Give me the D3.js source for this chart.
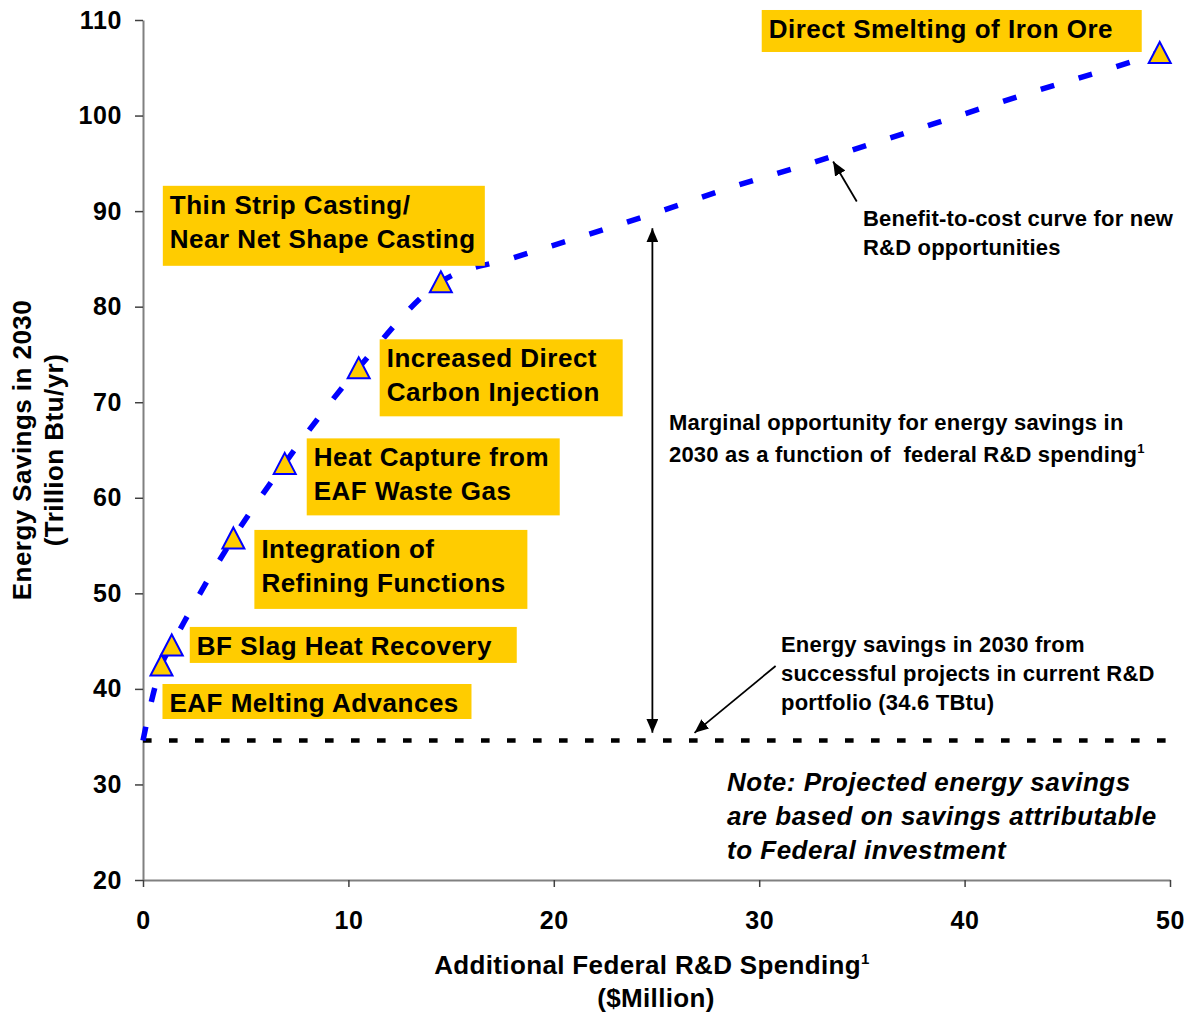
<!DOCTYPE html>
<html>
<head>
<meta charset="utf-8">
<script src="https://cdn.jsdelivr.net/npm/d3@7"></script>
<style>
  html, body { margin: 0; padding: 0; background: #ffffff; }
  svg { display: block; font-family: "Liberation Sans", Arial, Helvetica, sans-serif; font-weight: bold; }
</style>
</head>
<body>
<svg id="chart" width="1191" height="1014"></svg>
<script>
// ---- Candidate R&D projects (triangle markers) ----
const projectNames = [
  ["EAF Melting Advances"],
  ["BF Slag Heat Recovery"],
  ["Integration of", "Refining Functions"],
  ["Heat Capture from", "EAF Waste Gas"],
  ["Increased Direct", "Carbon Injection"],
  ["Thin Strip Casting/", "Near Net Shape Casting"],
  ["Direct Smelting of Iron Ore"]
];
const projectSpending = [0.9, 1.4, 4.4, 6.9, 10.5, 14.5, 49.5];   // $Million
const projectSavings  = [42.5, 44.6, 55.8, 63.6, 73.6, 82.6, 106.6]; // TBtu/yr

// ---- Benefit-to-cost curve for new R&D opportunities ----
const curveSpending = [0, 0.4, 0.9, 1.4, 2.0, 4.4, 6.9, 10.5, 14.5, 18.0, 21.6, 25.2, 28.8, 32.5, 36.0, 39.6, 43.2, 46.9, 49.5];
const curveSavings  = [34.6, 38.6, 42.5, 44.6, 47.0, 55.8, 63.6, 73.6, 82.6, 85.1, 87.5, 90.0, 92.6, 95.0, 97.4, 99.9, 102.4, 104.8, 106.6];

// ---- Savings from the current R&D portfolio ----
const portfolioSpending = [0, 50];
const portfolioSavings  = [34.6, 34.6];

// ---- Axis ticks ----
const xTicks = [0, 10, 20, 30, 40, 50];
const yTicks = [20, 30, 40, 50, 60, 70, 80, 90, 100, 110];

// Label box placement relative to each marker (pixels)
const labelLayout = [
  { dx: 1,    dy: 19,    w: 309, h: 35 },
  { dx: 18,   dy: -18,   w: 327, h: 36 },
  { dx: 21,   dy: -8,    w: 273, h: 79 },
  { dx: 22,   dy: -25,   w: 253, h: 77 },
  { dx: 21,   dy: -28.5, w: 243, h: 77 },
  { dx: -278, dy: -96,   w: 322, h: 80 },
  { dx: -398, dy: -42.5, w: 380, h: 42 }
];

const svg = d3.select("#chart");
const x = d3.scaleLinear().domain([0, 50]).range([143, 1170]);
const y = d3.scaleLinear().domain([20, 110]).range([880, 20]);

const GOLD = "#FFCC00";
const BLUE = "#0000FF";

// Arrowhead definition
const defs = svg.append("defs");
defs.append("marker")
  .attr("id", "arrowHead")
  .attr("markerUnits", "userSpaceOnUse")
  .attr("markerWidth", 14).attr("markerHeight", 12)
  .attr("refX", 14).attr("refY", 6)
  .attr("orient", "auto-start-reverse")
  .append("path")
  .attr("d", "M0,0 L14,6 L0,12 Z")
  .attr("fill", "#000");

// ---- Axes ----
const yAxis = d3.axisLeft(y).tickValues(yTicks).tickSize(8).tickSizeOuter(0).tickPadding(13);
const xAxis = d3.axisBottom(x).tickValues(xTicks).tickSize(7).tickSizeOuter(0).tickPadding(24);

const gy = svg.append("g").attr("transform", `translate(${x(0)},0)`).call(yAxis);
const gx = svg.append("g").attr("transform", `translate(0,${y(20)})`).call(xAxis);

[gy, gx].forEach(g => {
  g.select(".domain").attr("stroke", "#808080").attr("stroke-width", 2);
  g.selectAll(".tick line").attr("stroke", "#404040").attr("stroke-width", 1.5);
  g.selectAll(".tick text")
    .attr("fill", "#000")
    .style("font-family", "'Liberation Sans', Arial, sans-serif")
    .style("font-weight", "bold")
    .style("font-size", "25px")
    .style("letter-spacing", "0.6px");
});

// Axis titles
const xTitle = svg.append("text")
  .attr("x", 652).attr("y", 974)
  .attr("text-anchor", "middle")
  .style("font-size", "26px")
  .style("letter-spacing", "0.35px");
xTitle.append("tspan").text("Additional Federal R&D Spending");
xTitle.append("tspan").attr("dy", -10).style("font-size", "15px").text("1");
svg.append("text")
  .attr("x", 656).attr("y", 1007)
  .attr("text-anchor", "middle")
  .style("font-size", "26px")
  .style("letter-spacing", "0.35px")
  .text("($Million)");

svg.append("text")
  .attr("transform", "rotate(-90)")
  .attr("x", -450).attr("y", 31)
  .attr("text-anchor", "middle")
  .style("font-size", "26px")
  .style("letter-spacing", "0.45px")
  .text("Energy Savings in 2030");
svg.append("text")
  .attr("transform", "rotate(-90)")
  .attr("x", -450).attr("y", 63)
  .attr("text-anchor", "middle")
  .style("font-size", "26px")
  .style("letter-spacing", "0.45px")
  .text("(Trillion Btu/yr)");

// ---- Current portfolio line ----
const portfolioPts = portfolioSpending.map((s, i) => [s, portfolioSavings[i]]);
svg.append("path")
  .datum(portfolioPts)
  .attr("d", d3.line().x(d => x(d[0])).y(d => y(d[1])))
  .attr("fill", "none")
  .attr("stroke", "#000")
  .attr("stroke-width", 4.5)
  .attr("stroke-dasharray", "8.6,17.4");

// ---- Benefit-to-cost curve ----
const curvePts = curveSpending.map((s, i) => [s, curveSavings[i]]);
svg.append("path")
  .datum(curvePts)
  .attr("d", d3.line().x(d => x(d[0])).y(d => y(d[1])).curve(d3.curveMonotoneX))
  .attr("fill", "none")
  .attr("stroke", BLUE)
  .attr("stroke-width", 5.5)
  .attr("stroke-dasharray", "14,25.5");

// ---- Project markers ----
const projects = projectNames.map((name, i) => ({
  name, spending: projectSpending[i], savings: projectSavings[i], layout: labelLayout[i]
}));

svg.append("g").selectAll("path")
  .data(projects)
  .join("path")
  .attr("transform", d => `translate(${x(d.spending)},${y(d.savings)})`)
  .attr("d", "M0,-10.5 L11,10.5 L-11,10.5 Z")
  .attr("fill", GOLD)
  .attr("stroke", BLUE)
  .attr("stroke-width", 2)
  .attr("stroke-linejoin", "miter");

// ---- Project label boxes ----
const labels = svg.append("g").selectAll("g")
  .data(projects)
  .join("g")
  .attr("transform", d => `translate(${x(d.spending) + d.layout.dx},${y(d.savings) + d.layout.dy})`);

labels.append("rect")
  .attr("width", d => d.layout.w)
  .attr("height", d => d.layout.h)
  .attr("fill", GOLD);

labels.each(function (d) {
  const t = d3.select(this).append("text")
    .style("font-size", "26px")
    .style("letter-spacing", "0.5px")
    .attr("fill", "#000");
  d.name.forEach((line, j) => {
    t.append("tspan").attr("x", 7).attr("y", 28 + j * 34).text(line);
  });
});

// ---- Annotations ----
// Marginal opportunity double arrow
svg.append("line")
  .attr("x1", x(24.8)).attr("y1", y(88.2))
  .attr("x2", x(24.8)).attr("y2", y(35.4))
  .attr("stroke", "#000").attr("stroke-width", 1.8)
  .attr("marker-start", "url(#arrowHead)")
  .attr("marker-end", "url(#arrowHead)");

const marg = svg.append("text").style("font-size", "22px").style("letter-spacing", "0.2px");
marg.append("tspan").attr("x", 669).attr("y", 430).text("Marginal opportunity for energy savings in");
marg.append("tspan").attr("x", 669).attr("y", 462).text("2030 as a function of\u00A0 federal R&D spending");
marg.append("tspan").attr("dy", -9).style("font-size", "13px").text("1");

// Curve callout
svg.append("line")
  .attr("x1", x(34.75)).attr("y1", y(91.0))
  .attr("x2", x(33.6)).attr("y2", y(95.2))
  .attr("stroke", "#000").attr("stroke-width", 1.8)
  .attr("marker-end", "url(#arrowHead)");
const ben = svg.append("text").style("font-size", "22px").style("letter-spacing", "0.2px");
ben.append("tspan").attr("x", 863).attr("y", 226).text("Benefit-to-cost curve for new");
ben.append("tspan").attr("x", 863).attr("y", 255).text("R&D opportunities");

// Portfolio callout
svg.append("line")
  .attr("x1", x(30.8)).attr("y1", y(42.4))
  .attr("x2", x(26.85)).attr("y2", y(35.4))
  .attr("stroke", "#000").attr("stroke-width", 1.8)
  .attr("marker-end", "url(#arrowHead)");
const port = svg.append("text").style("font-size", "22px").style("letter-spacing", "0.2px");
["Energy savings in 2030 from", "successful projects in current R&D", "portfolio (34.6 TBtu)"].forEach((line, j) => {
  port.append("tspan").attr("x", 781).attr("y", 652 + j * 29).text(line);
});

// Note
const note = svg.append("text")
  .style("font-size", "26px")
  .style("font-style", "italic")
  .style("letter-spacing", "0.5px");
["Note: Projected energy savings", "are based on savings attributable", "to Federal investment"].forEach((line, j) => {
  note.append("tspan").attr("x", 727).attr("y", 791 + j * 34).text(line);
});
</script>
</body>
</html>
